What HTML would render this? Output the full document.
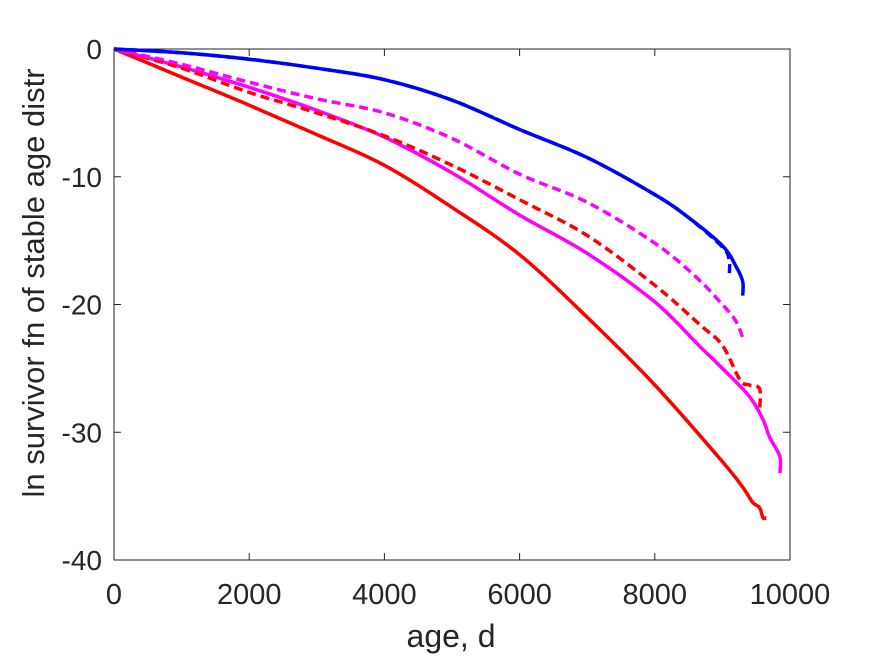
<!DOCTYPE html>
<html><head><meta charset="utf-8"><style>
body{margin:0;background:#fff;}
svg{display:block;font-family:"Liberation Sans",Arial,sans-serif;}
</style></head><body>
<svg id="chart" width="875" height="656"></svg>
<script>
const xTicks=[0,2000,4000,6000,8000,10000];
const yTicks=[0,-10,-20,-30,-40];
const blueSolidX=[0,1000,2000,3000,4000,5000,6000,7000,8000,8500,9000,9200,9300,9300];
const blueSolidY=[0,-0.3,-0.8,-1.5,-2.4,-4.0,-6.3,-8.5,-11.4,-13.2,-15.4,-17.0,-18.2,-19.3];
const blueDashX=[0,1000,2000,3000,4000,5000,6000,7000,8000,8500,9000,9100,9100];
const blueDashY=[0,-0.3,-0.8,-1.5,-2.4,-4.0,-6.3,-8.5,-11.4,-13.2,-15.5,-16.5,-17.8];
const magDashX=[0,1000,2000,3000,4000,5000,6000,7000,8000,8600,9000,9200,9300];
const magDashY=[0,-1.2,-2.6,-3.9,-5.0,-7.0,-9.8,-12.0,-15.2,-17.8,-20.0,-21.3,-22.6];
const redDashX=[0,1000,2000,3000,4000,5000,6000,7000,8000,8670,9000,9260,9400,9550,9550];
const redDashY=[0,-1.5,-3.4,-5.0,-6.8,-9.1,-11.8,-14.6,-18.5,-21.6,-23.2,-25.9,-26.3,-26.6,-28.3];
const magSolidX=[0,1000,2000,3000,4000,5000,6000,7000,8000,8670,9000,9400,9600,9700,9850,9850];
const magSolidY=[0,-1.4,-3.0,-4.8,-6.9,-9.7,-13.0,-16.0,-19.8,-23.3,-25.0,-27.2,-29.0,-30.4,-31.9,-33.2];
const redSolidX=[0,1000,2000,3000,4000,5000,6000,7000,8000,9000,9300,9450,9550,9600,9650];
const redSolidY=[0,-2.2,-4.4,-6.7,-9.1,-12.4,-16.1,-21.0,-26.3,-32.3,-34.3,-35.5,-35.9,-36.7,-36.7];

const L=114,R=790,T=49,B=560;
const sx=v=>L+(v/10000)*(R-L);
const sy=v=>T+(v/-40)*(B-T);
const svg=document.getElementById('chart');
const NS='http://www.w3.org/2000/svg';
function mk(tag,attrs){const e=document.createElementNS(NS,tag);for(const k in attrs)e.setAttribute(k,attrs[k]);svg.appendChild(e);return e;}

const frame=mk('rect',{x:L,y:T,width:R-L,height:B-T,fill:'#fff',stroke:'#262626','stroke-width':1});



xTicks.forEach(v=>{
  const x=sx(v);
  const t1=mk('line',{x1:x,y1:B,x2:x,y2:B-7,stroke:'#262626'});
  
  
  const t2=mk('line',{x1:x,y1:T,x2:x,y2:T+7,stroke:'#262626'});
  
  
  const tx=mk('text',{x:x,y:604,'text-anchor':'middle','font-size':29,fill:'#262626'});
  tx.textContent=v;
  
  
});
yTicks.forEach(v=>{
  const y=sy(v);
  const t1=mk('line',{x1:L,y1:y,x2:L+7,y2:y,stroke:'#262626'});
  
  
  const t2=mk('line',{x1:R,y1:y,x2:R-7,y2:y,stroke:'#262626'});
  
  
  const tx=mk('text',{x:102,y:y+10,'text-anchor':'end','font-size':28,fill:'#262626'});
  tx.textContent=v;
  
  
});

function smoothPath(pts){
  let d='M'+pts[0][0].toFixed(1)+','+pts[0][1].toFixed(1);
  for(let i=0;i<pts.length-1;i++){
    const p0=pts[Math.max(0,i-1)],p1=pts[i],p2=pts[i+1],p3=pts[Math.min(pts.length-1,i+2)];
    const c1x=p1[0]+(p2[0]-p0[0])/6,c1y=p1[1]+(p2[1]-p0[1])/6;
    const c2x=p2[0]-(p3[0]-p1[0])/6,c2y=p2[1]-(p3[1]-p1[1])/6;
    d+=' C'+c1x.toFixed(1)+','+c1y.toFixed(1)+' '+c2x.toFixed(1)+','+c2y.toFixed(1)+' '+p2[0].toFixed(1)+','+p2[1].toFixed(1);
  }
  return d;
}
function series(xs,ys,color,dash,name){
  const pts=xs.map((x,i)=>[sx(x),sy(ys[i])]);
  const p=mk('path',{d:smoothPath(pts),fill:'none',stroke:color,'stroke-width':3.5,'stroke-linejoin':'round'});
  if(dash)p.setAttribute('stroke-dasharray',dash);
  
  
}
series(redSolidX,redSolidY,'#ff0000',null,'red-solid-line');
series(magSolidX,magSolidY,'#ff00ff',null,'magenta-solid-line');
series(redDashX,redDashY,'#ff0000','9,5','red-dashed-line');
series(magDashX,magDashY,'#ff00ff','9,5','magenta-dashed-line');
series(blueDashX,blueDashY,'#0000ff','9,5','blue-dashed-line');
series(blueSolidX,blueSolidY,'#0000ff',null,'blue-solid-line');

const xl=mk('text',{x:451,y:647,'text-anchor':'middle','font-size':32,fill:'#262626'});
xl.textContent='age, d';


const yl=mk('text',{x:0,y:0,'text-anchor':'middle','font-size':31,fill:'#262626',transform:'translate(44,283) rotate(-90)'});
yl.textContent='ln survivor fn of stable age distr';


</script>
</body></html>
